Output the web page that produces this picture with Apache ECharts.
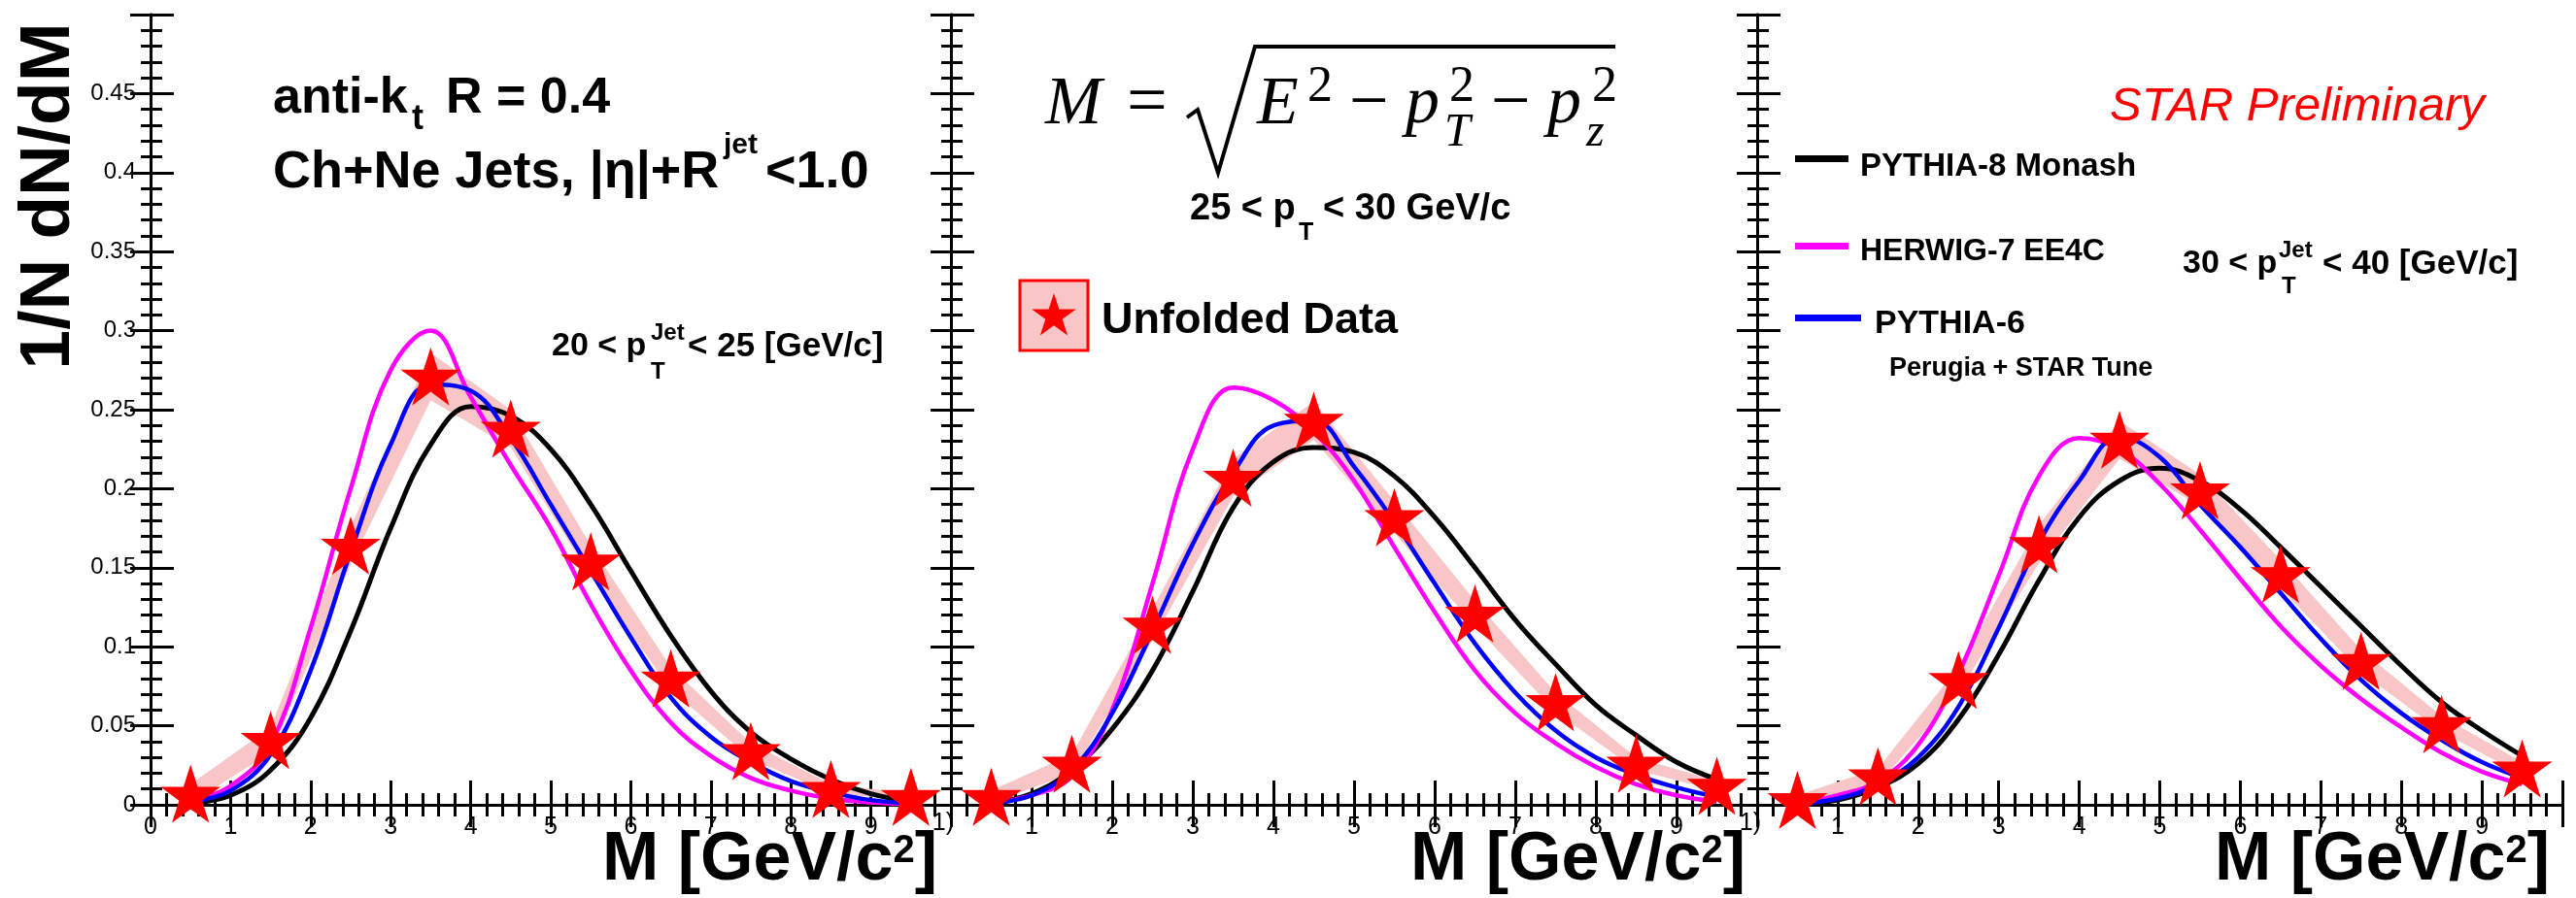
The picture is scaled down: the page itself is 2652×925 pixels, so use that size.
<!DOCTYPE html>
<html><head><meta charset="utf-8">
<script src="https://cdn.jsdelivr.net/npm/echarts@6/dist/echarts.min.js"></script>
<style>html,body{margin:0;padding:0;background:#fff}#c{width:2652px;height:925px}</style>
</head><body><div id="c"></div>
<script>
// ---- data ----
const binCenters = [0.5,1.5,2.5,3.5,4.5,5.5,6.5,7.5,8.5,9.5];
const curveX = [0.5,1,1.5,2,2.5,3,3.5,4,4.5,5,5.5,6,6.5,7,7.5,8,8.5,9,9.5];

const data_20_25 = [0.007,0.041,0.164,0.271,0.238,0.154,0.080,0.034,0.010,0.005];
const err_20_25  = [0.006,0.008,0.012,0.015,0.012,0.010,0.007,0.005,0.003,0.002];
const data_25_30 = [0.005,0.026,0.114,0.207,0.243,0.182,0.121,0.065,0.026,0.012];
const err_25_30  = [0.004,0.006,0.010,0.012,0.012,0.010,0.008,0.006,0.004,0.003];
const data_30_40 = [0.003,0.018,0.079,0.165,0.231,0.199,0.146,0.091,0.051,0.023];
const err_30_40  = [0.003,0.005,0.008,0.012,0.012,0.010,0.009,0.007,0.005,0.004];

const pythia8_20_25 = [0.001,0.006,0.022,0.055,0.11,0.175,0.228,0.252,0.246,0.225,0.19,0.148,0.107,0.072,0.046,0.029,0.016,0.007,0.002];
const herwig7_20_25 = [0.002,0.012,0.038,0.112,0.2,0.275,0.3,0.258,0.215,0.175,0.127,0.085,0.052,0.031,0.017,0.009,0.004,0.0015,0.0005];
const pythia6_20_25 = [0.002,0.009,0.032,0.085,0.16,0.228,0.266,0.262,0.232,0.19,0.148,0.106,0.068,0.043,0.027,0.015,0.008,0.003,0.001];

const pythia8_25_30 = [0.001,0.007,0.022,0.048,0.085,0.135,0.188,0.217,0.226,0.223,0.208,0.182,0.15,0.117,0.089,0.063,0.044,0.027,0.016];
const herwig7_25_30 = [0.001,0.006,0.018,0.06,0.14,0.225,0.264,0.256,0.236,0.205,0.163,0.122,0.085,0.058,0.039,0.024,0.013,0.006,0.002];
const pythia6_25_30 = [0.001,0.006,0.022,0.058,0.11,0.165,0.21,0.24,0.243,0.214,0.179,0.14,0.102,0.071,0.047,0.03,0.019,0.011,0.005];

const pythia8_30_40 = [0.0005,0.003,0.011,0.026,0.054,0.095,0.142,0.182,0.205,0.213,0.205,0.187,0.163,0.138,0.113,0.088,0.065,0.047,0.031];
const herwig7_30_40 = [0.001,0.006,0.015,0.038,0.083,0.145,0.208,0.232,0.225,0.203,0.174,0.143,0.113,0.088,0.067,0.049,0.033,0.021,0.013];
const pythia6_30_40 = [0.0005,0.004,0.013,0.03,0.062,0.112,0.166,0.205,0.233,0.22,0.19,0.163,0.134,0.105,0.079,0.058,0.041,0.027,0.017];

const xTicks = [0,1,2,3,4,5,6,7,8,9,10];
const yTicks = [0,0.05,0.1,0.15,0.2,0.25,0.3,0.35,0.4,0.45,0.5];

const panels = [
  {data: data_20_25, err: err_20_25, p8: pythia8_20_25, hw: herwig7_20_25, p6: pythia6_20_25},
  {data: data_25_30, err: err_25_30, p8: pythia8_25_30, hw: herwig7_25_30, p6: pythia6_25_30},
  {data: data_30_40, err: err_30_40, p8: pythia8_30_40, hw: herwig7_30_40, p6: pythia6_30_40}
];

// ---- layout ----
const gridLeft = [155, 979, 1809];
const gridWidth = [824, 830, 829];
const gridTop = 15, gridHeight = 814;
const SANS = "'Liberation Sans',Arial,Helvetica,sans-serif";
const SERIF = "'Liberation Serif','DejaVu Serif',serif";
const STAR = 'path://M50,0L61.2,34.5L97.6,34.5L68.2,55.9L79.4,90.5L50,69.1L20.6,90.5L31.8,55.9L2.4,34.5L38.8,34.5Z';

function starPoints(cx, cy, R) {
  const pts = [];
  for (let k = 0; k < 10; k++) {
    const r = (k % 2 === 0) ? R : R * 0.382;
    const a = -Math.PI / 2 + k * Math.PI / 5;
    pts.push([cx + r * Math.cos(a), cy + r * Math.sin(a)]);
  }
  return pts;
}

const grids = [], xAxes = [], yAxes = [], series = [];
const axisLine = {show: true, lineStyle: {color: '#000', width: 3}};
for (let i = 0; i < 3; i++) {
  grids.push({left: gridLeft[i], top: gridTop, width: gridWidth[i], height: gridHeight, outerBoundsMode: 'none', containLabel: false});
  const xBase = {gridIndex: i, type: 'value', min: xTicks[0], max: xTicks[xTicks.length-1], interval: 1,
    axisLine: axisLine, splitLine: {show: false}};
  xAxes.push(Object.assign({}, xBase, {position: 'bottom',
    axisTick: {show: true, inside: true, length: 25, lineStyle: {color: '#000', width: 3}},
    minorTick: {show: true, splitNumber: 5, length: 12, lineStyle: {color: '#000', width: 3}},
    axisLabel: {show: true, margin: 11, color: '#000', fontFamily: SANS, fontSize: 25,
      formatter: v => (v === 10 ? '' : (v === 0 && i > 0 ? '' : String(v)))}}));
  xAxes.push(Object.assign({}, xBase, {position: 'top',
    axisTick: {show: true, inside: true, length: 23, lineStyle: {color: '#000', width: 3}},
    minorTick: {show: true, splitNumber: 5, length: 12, lineStyle: {color: '#000', width: 3}},
    axisLabel: {show: false}}));
  const yBase = {gridIndex: i, type: 'value', min: yTicks[0], max: yTicks[yTicks.length-1], interval: 0.05,
    axisLine: axisLine, splitLine: {show: false}};
  yAxes.push(Object.assign({}, yBase, {position: 'left',
    axisTick: {show: true, inside: true, length: 24, lineStyle: {color: '#000', width: 3}},
    minorTick: {show: true, splitNumber: 5, length: 12, lineStyle: {color: '#000', width: 3}},
    axisLabel: {show: i === 0, margin: 15, color: '#000', fontFamily: SANS, fontSize: 24,
      formatter: v => (v > 0.49 ? '' : String(+v.toFixed(2)))}}));
  yAxes.push(Object.assign({}, yBase, {position: 'right',
    axisTick: {show: true, inside: true, length: 21, lineStyle: {color: '#000', width: 3}},
    minorTick: {show: true, splitNumber: 5, length: 10, lineStyle: {color: '#000', width: 3}},
    axisLabel: {show: false}}));

  const P = panels[i];
  const xi = 2*i, yi = 2*i;
  // systematic band: polygon through (data +/- err) at the bin centres
  series.push({type: 'custom', xAxisIndex: xi, yAxisIndex: yi, silent: true, z: 1, clip: false,
    data: [[binCenters[0], P.data[0]]],
    renderItem: (params, api) => {
      const up = binCenters.map((x, k) => api.coord([x, P.data[k] + P.err[k]]));
      const lo = binCenters.map((x, k) => api.coord([x, Math.max(0, P.data[k] - P.err[k])])).reverse();
      return {type: 'polygon', shape: {points: up.concat(lo)}, style: {fill: '#f8c6c6'}};
    }});
  const mk = (arr, color, w, z) => ({type: 'line', xAxisIndex: xi, yAxisIndex: yi,
    data: curveX.map((x, k) => [x, arr[k]]), smooth: 0.4, symbol: 'none',
    lineStyle: {color: color, width: w}, silent: true, z: z});
  series.push(mk(P.p8, '#000000', 5, 3));
  series.push(mk(P.hw, '#ff00ff', 4.5, 4));
  series.push(mk(P.p6, '#0000ff', 4.5, 5));
  series.push({type: 'scatter', xAxisIndex: xi, yAxisIndex: yi, clip: false,
    data: binCenters.map((x, k) => [x, P.data[k]]), symbol: STAR, symbolSize: [62, 60],
    itemStyle: {color: '#ff0000', opacity: 1}, z: 10, silent: true});
}

// ---- annotations ----
const T = (x, y, text, size, opts) => Object.assign({type: 'text', x: x, y: y, z: 50, silent: true,
  style: Object.assign({text: text, fontFamily: SANS, fontSize: size, fontWeight: 'bold', fill: '#000',
    align: 'left', verticalAlign: 'middle'}, opts || {})});
const S = (x, y, text, size, italic) => ({type: 'text', x: x, y: y, z: 50, silent: true,
  style: {text: text, fontFamily: SERIF, fontSize: size, fontStyle: italic ? 'italic' : 'normal', fill: '#000',
    align: 'left', verticalAlign: 'middle'}});

const graphics = [
  // y-axis title
  {type: 'text', x: 51, y: 202, rotation: Math.PI/2, z: 50, silent: true,
   style: {text: '1/N dN/dM', fontFamily: SANS, fontSize: 73, fontWeight: 'bold',
     fill: '#000', align: 'center', verticalAlign: 'middle'}},
  // panel 1
  T(281, 102, 'anti-k', 52), T(424, 123, 't', 36), T(459, 102, 'R = 0.4', 52),
  T(281, 178, 'Ch+Ne Jets, |η|+R', 54), T(745, 150, 'jet', 30), T(788, 178, '<1.0', 54),
  T(568, 357, '20 < p', 34), T(670, 343, 'Jet', 24), T(670, 383, 'T', 24), T(708, 357, '< 25 [GeV/c]', 35),
  // panel 2 formula
  S(1076, 109, 'M', 70, true), S(1160, 108, '=', 74, false),
  {type: 'polyline', z: 50, silent: true, shape: {points: [[1222,121],[1233,113],[1254,178],[1292,48],[1663,48]]},
   style: {stroke: '#000', lineWidth: 4, fill: null, lineJoin: 'miter'}},
  S(1294, 109, 'E', 70, true), S(1346, 90, '2', 52, false), S(1389, 108, '−', 72, false),
  S(1447, 108, 'p', 70, true), S(1492, 90, '2', 52, false), S(1487, 137, 'T', 48, true),
  S(1535, 108, '−', 72, false),
  S(1593, 108, 'p', 70, true), S(1639, 90, '2', 52, false), S(1633, 137, 'z', 48, true),
  T(1225, 216, '25 < p', 38), T(1337, 240, 'T', 25), T(1362, 216, '< 30 GeV/c', 38),
  // legend: unfolded data
  {type: 'rect', z: 50, silent: true, shape: {x: 1050, y: 289, width: 70, height: 72},
   style: {fill: '#f8c6c6', stroke: '#ff0000', lineWidth: 3}},
  {type: 'polygon', z: 51, silent: true, shape: {points: starPoints(1085, 326, 24)}, style: {fill: '#ff0000'}},
  T(1134, 331, 'Unfolded Data', 45),
  // panel 3
  T(2172, 110, 'STAR Preliminary', 49, {fontWeight: 'normal', fontStyle: 'italic', fill: '#ff0000'}),
  {type: 'rect', z: 50, silent: true, shape: {x: 1848, y: 160, width: 55, height: 7}, style: {fill: '#000'}},
  T(1915, 172, 'PYTHIA-8 Monash', 33),
  {type: 'rect', z: 50, silent: true, shape: {x: 1848, y: 250, width: 55, height: 7}, style: {fill: '#ff00ff'}},
  T(1915, 259, 'HERWIG-7 EE4C', 32),
  {type: 'rect', z: 50, silent: true, shape: {x: 1848, y: 324, width: 68, height: 7}, style: {fill: '#0000ff'}},
  T(1930, 334, 'PYTHIA-6', 34),
  T(1945, 380, 'Perugia + STAR Tune', 27),
  T(2247, 272, '30 < p', 34), T(2346, 258, 'Jet', 24), T(2349, 295, 'T', 24), T(2391, 272, '< 40 [GeV/c]', 35),
  // clipped "10" labels
  T(982, 848, '1)', 25, {fontWeight: 'normal', align: 'right'}),
  T(1813, 848, '1)', 25, {fontWeight: 'normal', align: 'right'})
];
// x-axis titles
[965, 1797, 2625].forEach(xr => {
  graphics.push({type: 'text', x: xr, y: 887, z: 50, silent: true,
    style: {text: '{m|M [GeV/c}{s|2}{m|]}', align: 'right', verticalAlign: 'middle',
      rich: {m: {fontFamily: SANS, fontSize: 70, fontWeight: 'bold', fill: '#000', lineHeight: 60},
             s: {fontFamily: SANS, fontSize: 40, fontWeight: 'bold', fill: '#000', lineHeight: 36, verticalAlign: 'top'}}}});
});

const chart = echarts.init(document.getElementById('c'), null, {renderer: 'canvas', width: 2652, height: 925});
chart.setOption({
  animation: false,
  backgroundColor: '#ffffff',
  grid: grids, xAxis: xAxes, yAxis: yAxes, series: series, graphic: graphics
});
</script></body></html>
